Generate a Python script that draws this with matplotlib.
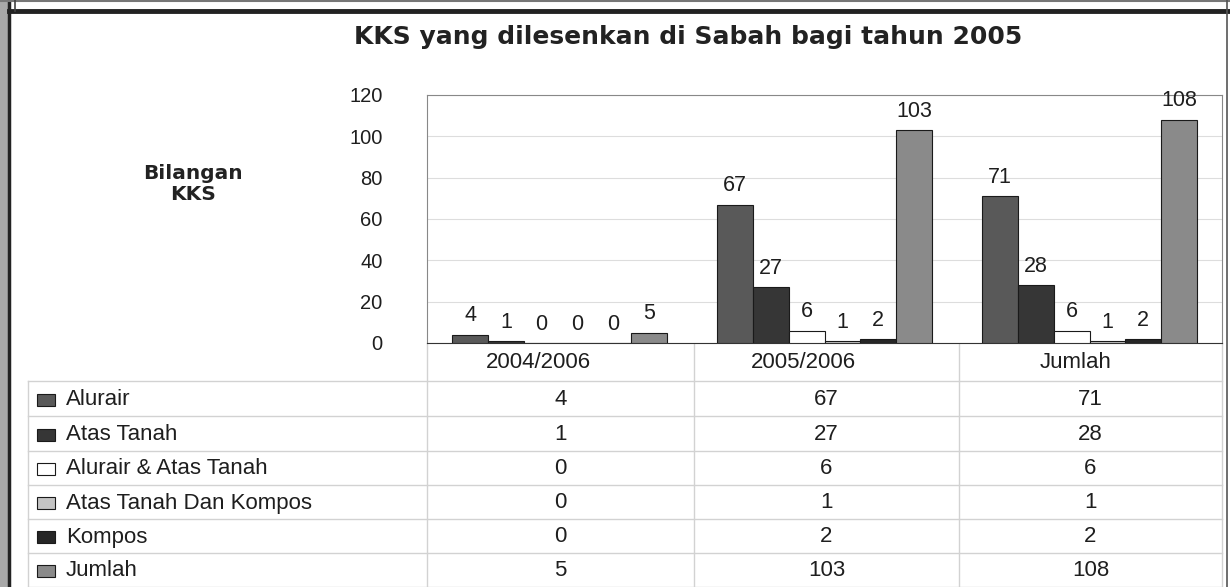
import matplotlib
matplotlib.use("Agg")
import matplotlib.pyplot as plt
import numpy as np

# data
categories = ["2004/2006", "2005/2006", "Jumlah"]
series_names = ["Alurair", "Atas Tanah", "Alurair & Atas Tanah",
                "Atas Tanah Dan Kompos", "Kompos", "Jumlah"]
alurair = [4, 67, 71]
atas_tanah = [1, 27, 28]
alurair_atas = [0, 6, 6]
atas_kompos = [0, 1, 1]
kompos = [0, 2, 2]
jumlah = [5, 103, 108]
series = [alurair, atas_tanah, alurair_atas, atas_kompos, kompos, jumlah]
colors = ["#595959", "#363636", "#ffffff", "#c4c4c4", "#262626", "#8a8a8a"]
yticks = [0, 20, 40, 60, 80, 100, 120]

W, H = 1230, 587
fig = plt.figure(figsize=(W / 100, H / 100), dpi=100)
FONT = "Liberation Sans"
TXT = "#1e1e1e"

def fx(px):
    return px / W

def fy(py):
    return 1 - py / H

# overlay in pixel coords for frame / table / texts
bg = fig.add_axes([0, 0, 1, 1])
bg.set_xlim(0, W)
bg.set_ylim(H, 0)
bg.axis("off")

# frame pieces
bg.add_patch(plt.Rectangle((0, 0), 8, H, color="#a8a8a8", lw=0))
bg.plot([9, 9], [0, H], color="#222222", lw=2.5)
bg.plot([0, W], [1, 1], color="#777777", lw=1.5)
bg.plot([9, W], [11, 11], color="#222222", lw=3.5)
bg.plot([15, 15], [0, 11], color="#444444", lw=1.2)
bg.plot([W - 3, W - 3], [0, H], color="#555555", lw=1.2)

# chart
left, right, top, bottom = 427, 1222, 95, 343
ax = fig.add_axes([fx(left), fy(bottom), (right - left) / W, (bottom - top) / H])
x = np.arange(len(categories))
w = 0.135
for j, vals in enumerate(series):
    pos = x + (j - 2.5) * w
    bars = ax.bar(pos, vals, w, color=colors[j], edgecolor="#1a1a1a", lw=0.8, zorder=3)
    for b, v in zip(bars, vals):
        ax.annotate(str(v), (b.get_x() + b.get_width() / 2, v), xytext=(0, 6),
                    textcoords="offset points", ha="center", va="bottom",
                    fontsize=15.5, family=FONT, color=TXT, zorder=5)
ax.set_xlim(-0.5, 2.5)
ax.set_ylim(0, 120)
ax.set_yticks(yticks)
ax.set_yticklabels([str(t) for t in yticks], fontsize=14.5, family=FONT, color=TXT)
ax.tick_params(axis="y", length=0, pad=32)
ax.set_xticks([])
ax.grid(axis="y", color="#dddddd", lw=0.8, zorder=0)
for s in ax.spines.values():
    s.set_color("#888888")
    s.set_linewidth(0.8)
ax.spines["bottom"].set_color("#333333")

fig.text(fx(688), fy(37), "KKS yang dilesenkan di Sabah bagi tahun 2005", ha="center", va="center",
         fontsize=18, fontweight="bold", family="DejaVu Sans", color="#222222")
fig.text(fx(193), fy(184), "Bilangan\nKKS", ha="center", va="center", fontsize=14.5,
         fontweight="bold", family="DejaVu Sans", color="#222222", linespacing=1.15)

# data table
col_lines = [427, 694, 959, 1222]
row_lines = [381, 416, 451, 485, 519, 553, 587]
col_centers = [(a + b) / 2 for a, b in zip(col_lines[:-1], col_lines[1:])]
header_x = [538, 803, 1076]
grid_c = "#d2d2d2"
for yl in row_lines:
    bg.plot([28, 1222], [yl, yl], color=grid_c, lw=1)
bg.plot([28, 28], [381, 587], color=grid_c, lw=1)
for xl in col_lines:
    bg.plot([xl, xl], [bottom, 587], color=grid_c, lw=1)
for c, cx in zip(categories, header_x):
    bg.text(cx, 362, c, ha="center", va="center", fontsize=16, family=FONT, color=TXT)
for i, (name, vals) in enumerate(zip(series_names, series)):
    cy = (row_lines[i] + row_lines[i + 1]) / 2 + 1
    bg.add_patch(plt.Rectangle((37, cy - 6), 18, 12, facecolor=colors[i], edgecolor="#1a1a1a", lw=0.8))
    bg.text(66, cy, name, ha="left", va="center", fontsize=16, family=FONT, color=TXT)
    for v, cx in zip(vals, col_centers):
        bg.text(cx, cy, str(v), ha="center", va="center", fontsize=16, family=FONT, color=TXT)

fig.savefig("out.png", dpi=100)
